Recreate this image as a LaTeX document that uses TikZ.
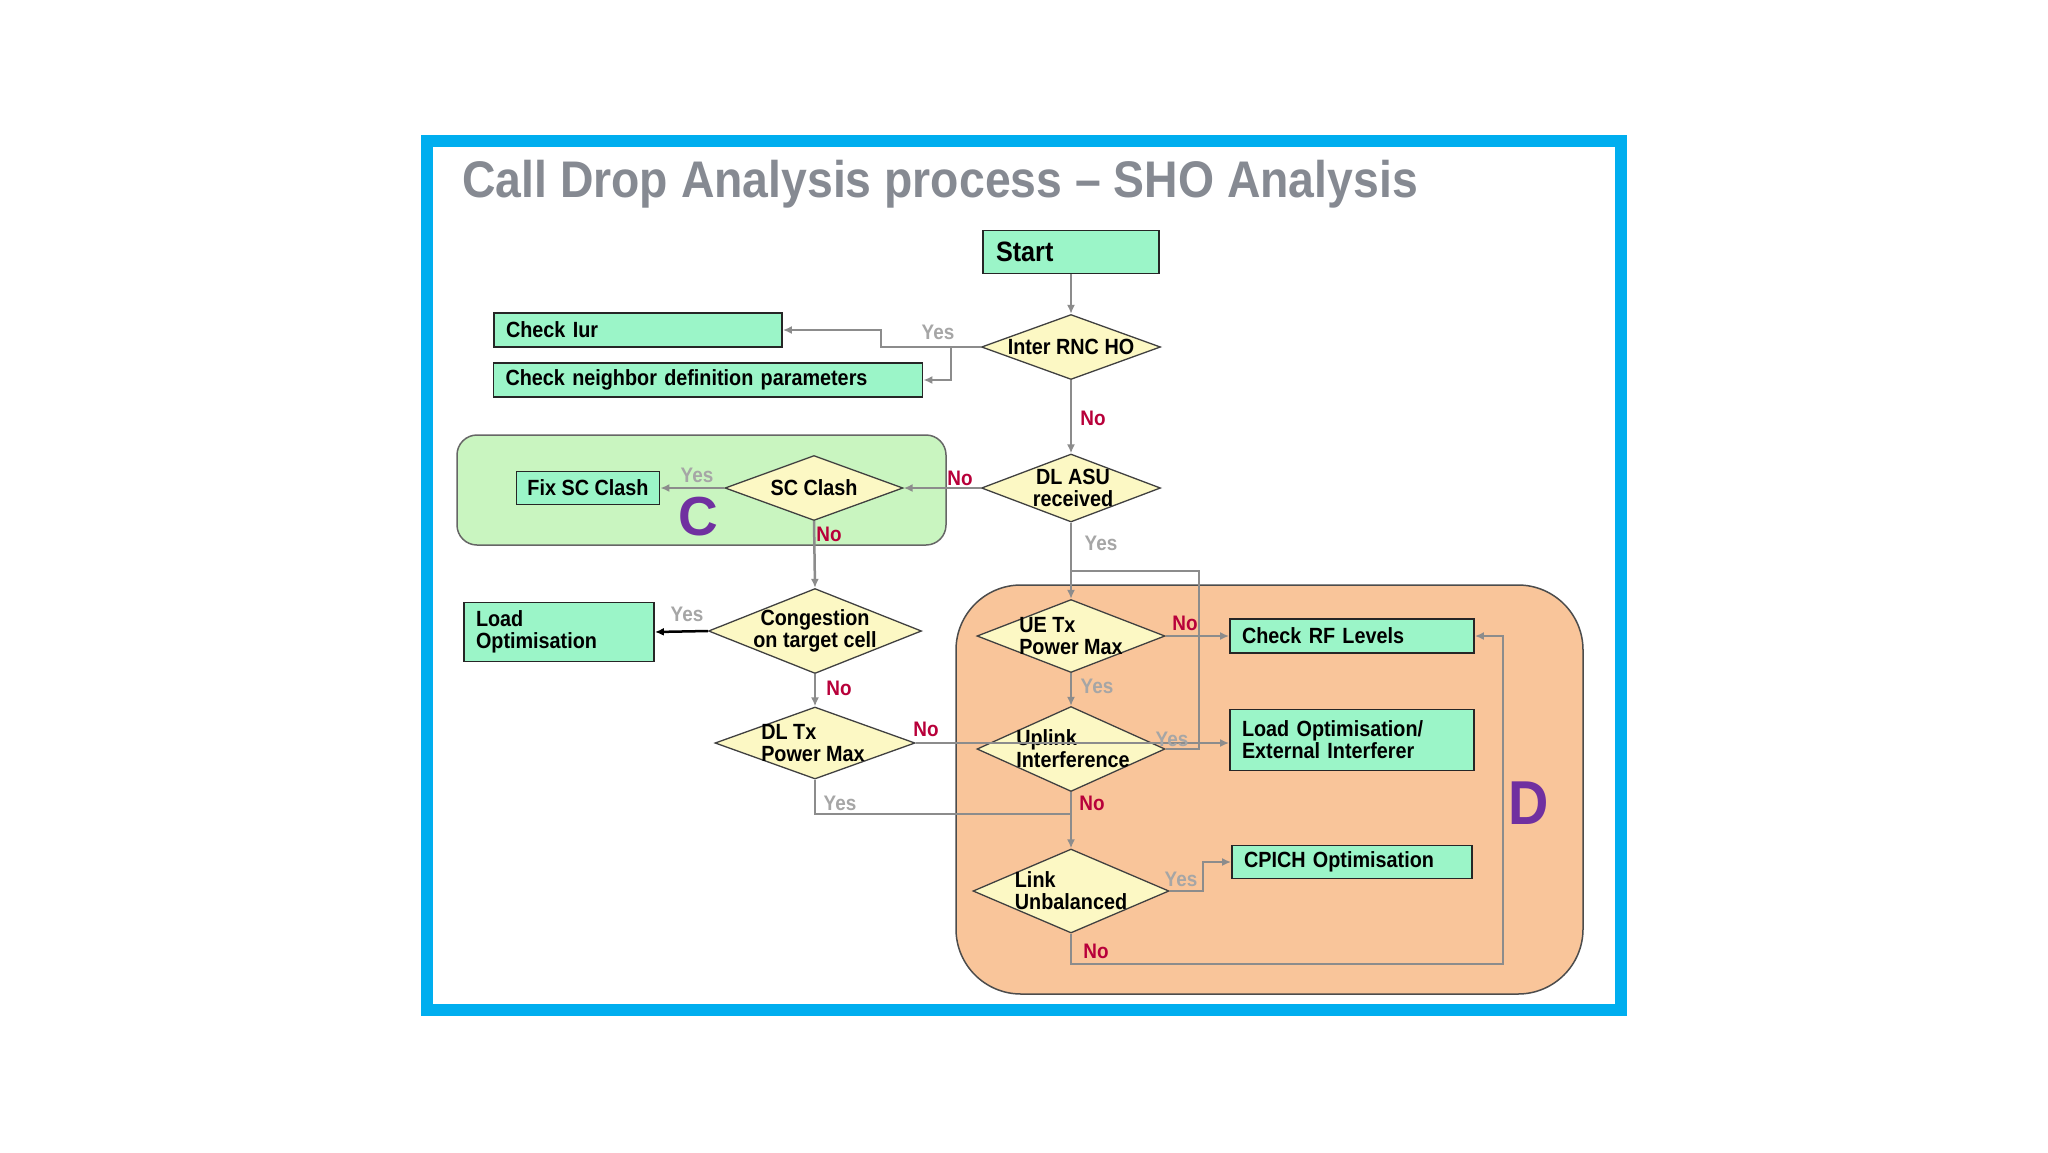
\documentclass[tikz,border=0pt]{standalone}
\usepackage{fontspec}
\setmainfont{Liberation Sans}[FakeStretch=0.9]
\newfontfamily\widesans{Liberation Sans}
\usetikzlibrary{shapes.geometric,arrows.meta}
\definecolor{frameblue}{HTML}{00AEEF}
\definecolor{boxfill}{HTML}{9BF5C8}
\definecolor{diafill}{HTML}{FCF8C4}
\definecolor{regcfill}{HTML}{C9F5C0}
\definecolor{regdfill}{HTML}{F9C59A}
\definecolor{titlegray}{HTML}{868A92}
\definecolor{nored}{HTML}{B8003A}
\definecolor{yesgray}{HTML}{A6A6A6}
\definecolor{linegray}{HTML}{8C8C8C}
\definecolor{purpleC}{HTML}{7030A0}
\begin{document}
\begin{tikzpicture}[x=1pt,y=-1pt,
  dia/.style={diamond, draw=black!75, fill=diafill, inner sep=0pt, line width=1.3pt},
  dtext/.style={font=\fontsize{22}{22}\selectfont\bfseries, align=#1, inner sep=0pt},
  dtext/.default=center,
  box/.style={rectangle, draw=black!85, fill=boxfill, line width=1.8pt, inner ysep=0pt, inner xsep=12pt,
     font=\fontsize{22}{22}\selectfont\bfseries, align=left},
  conn/.style={draw=linegray, line width=2.5pt, -{Latex[length=9pt,width=8pt]}},
  plain/.style={draw=linegray, line width=2.5pt},
  yeslbl/.style={text=yesgray, font=\fontsize{21}{21}\selectfont\bfseries, inner sep=0pt},
  nolbl/.style={text=nored, font=\fontsize{21}{21}\selectfont\bfseries, inner sep=0pt},
  region/.style={draw=black!60, line width=1.5pt}
]
\useasboundingbox (0,0) rectangle (2048,1152);
\fill[white] (0,0) rectangle (2048,1152);
% frame
\draw[line width=12pt, frameblue] (426.5,140.5) rectangle (1621,1010);
% title
\node[anchor=base west, text=titlegray, inner sep=0pt, font=\fontsize{51.5}{52}\selectfont\bfseries] (title) at (462,197) {Call Drop Analysis process -- SHO Analysis};
% regions
\draw[region, fill=regcfill, rounded corners=20pt] (457,435) rectangle (946,545);
\draw[region, draw=black!70, fill=regdfill, rounded corners=65pt] (956,585) rectangle (1583,994);
\node[text=purpleC, font=\widesans\fontsize{55}{55}\selectfont\bfseries, inner sep=0pt] (bigC) at (698,517) {C};
\node[text=purpleC, font=\fontsize{62}{62}\selectfont\bfseries, inner sep=0pt] (bigD) at (1529,803) {D};

% nodes
\node[box, minimum width=176pt, minimum height=43pt, text width=150pt, font=\fontsize{28}{28}\selectfont\bfseries] (start) at (1071,252) {Start};
\node[dia, minimum width=179pt, minimum height=65pt] (irnc) at (1071,347) {};
\node[dtext] (irnct) at (irnc) {Inter RNC HO};
\node[box, minimum width=288pt, minimum height=34pt, text width=264pt] (iur) at (638,330) {Check Iur};
\node[box, minimum width=429pt, minimum height=34pt, text width=405pt] (nbr) at (708,380) {Check neighbor definition parameters};

\node[dia, minimum width=179pt, minimum height=68pt] (dlasu) at (1071,488) {};
\node[dtext] (dlasut) at ([xshift=2pt]dlasu) {DL ASU\\ received};
\node[dia, minimum width=178pt, minimum height=65pt] (scc) at (814,488) {};
\node[dtext] (scct) at (scc) {SC Clash};
\node[box, minimum width=143pt, minimum height=33pt, inner xsep=4pt, align=center] (fix) at (588,488) {Fix SC Clash};

\node[dia, minimum width=213pt, minimum height=85pt] (cong) at (815,631) {};
\node[dtext] (congt) at (cong) {Congestion\\ on target cell};
\node[box, minimum width=190pt, minimum height=59pt, text width=166pt] (load) at (559,632) {Load\\ Optimisation};

\node[dia, minimum width=200pt, minimum height=72pt] (dltx) at (815,743) {};
\node[dtext=left] (dltxt) at ([xshift=-2pt]dltx) {DL Tx\\ Power Max};

\node[dia, minimum width=188pt, minimum height=73pt] (uetx) at (1071,636) {};
\node[dtext=left] (uetxt) at (uetx) {UE Tx\\ Power Max};
\node[box, minimum width=244pt, minimum height=34pt, text width=220pt] (rf) at (1352,636) {Check RF Levels};

\node[dia, minimum width=188pt, minimum height=85pt] (upl) at (1071,749) {};
\node[dtext=left] (uplt) at ([xshift=2pt]upl) {Uplink\\ Interference};
\node[box, minimum width=244pt, minimum height=61pt, text width=220pt] (ldext) at (1352,740) {Load Optimisation/\\ External Interferer};

\node[dia, minimum width=196pt, minimum height=84pt] (lnk) at (1071,891) {};
\node[dtext=left] (lnkt) at (lnk) {Link\\ Unbalanced};
\node[box, minimum width=240pt, minimum height=33pt, text width=216pt] (cpich) at (1352,862) {CPICH Optimisation};

% connectors
\draw[conn] (start.south) -- (irnc.north);
\draw[conn] (irnc.west) -- (881,347) |- (iur.east);
\coordinate (b1) at (951,347);
\draw[conn] (b1) |- (nbr.east);
\draw[conn] (irnc.south) -- (dlasu.north);
\draw[conn] (dlasu.west) -- (scc.east);
\draw[conn] (scc.west) -- (fix.east);
\draw[conn] (scc.south) -- (cong.north);
\draw[line width=2.5pt, black, -{Latex[length=9pt,width=8pt]}] (cong.west) -- (load.east);
\draw[conn] (cong.south) -- (dltx.north);
\draw[conn] (dlasu.south) -- (uetx.north);
\coordinate (b2) at (1071,571);
\draw[plain] (b2) -- (1199,571) |- (upl.east);
\draw[conn] (uetx.east) -- (rf.west);
\draw[conn] (uetx.south) -- (upl.north);
\draw[conn] (dltx.east) -- (dltx.east -| ldext.west);
\draw[conn] (upl.south) -- (lnk.north);
\coordinate (b3) at (1071,814);
\draw[plain] (dltx.south) |- (b3);
\draw[conn] (lnk.east) -- (1203,891) |- (cpich.west);
\draw[conn] (lnk.south) -- (1071,964) -| (1503,800) |- (rf.east);

% labels
\node[yeslbl] (y1) at (938,332) {Yes};
\node[nolbl] (n1) at (1093,418) {No};
\node[nolbl] (n2) at (960,478) {No};
\node[yeslbl] (y2) at (697,475) {Yes};
\node[nolbl] (n3) at (829,534) {No};
\node[yeslbl] (y3) at (687,614) {Yes};
\node[nolbl] (n4) at (839,688) {No};
\node[nolbl] (n5) at (926,729) {No};
\node[yeslbl] (y4) at (1101,543) {Yes};
\node[nolbl] (n6) at (1185,623) {No};
\node[yeslbl] (y5) at (1097,686) {Yes};
\node[yeslbl] (y6) at (1172,739) {Yes};
\node[nolbl] (n7) at (1092,803) {No};
\node[yeslbl] (y7) at (840,803) {Yes};
\node[yeslbl] (y8) at (1181,879) {Yes};
\node[nolbl] (n8) at (1096,951) {No};
\end{tikzpicture}
\end{document}
